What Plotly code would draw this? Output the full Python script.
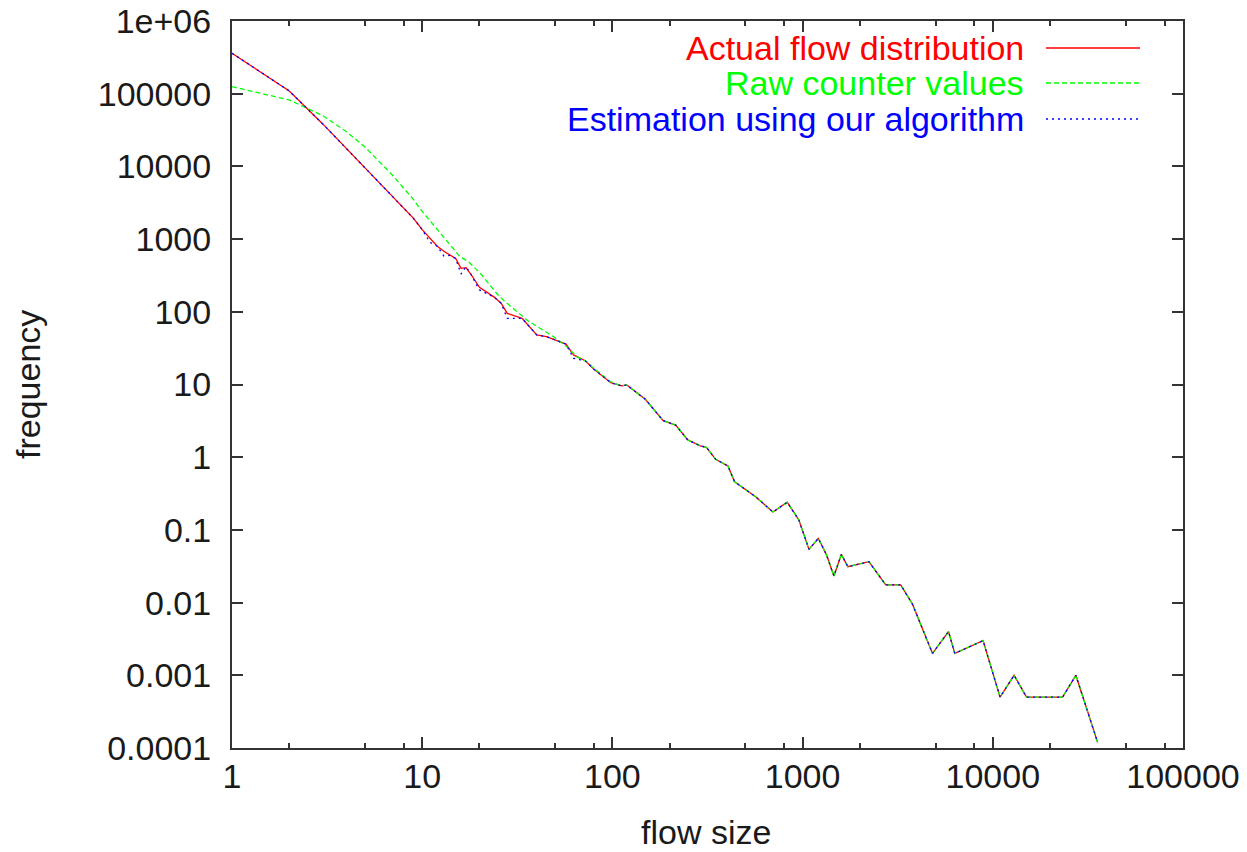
import plotly.graph_objects as go

# ---------------- data ----------------
flow_size_head = [1, 2, 3, 4, 5, 6, 7, 8, 9, 10, 11, 12, 13, 14, 15, 16, 17, 18,
                  20, 24, 26, 28, 33.5, 40, 45, 57, 62.5, 72, 80, 98]
actual_head = [360000, 109000, 38400, 17700, 9600, 5800, 3800, 2650, 1930, 1350,
               1020, 800, 680, 596, 540, 396, 405, 331, 217, 158, 131, 95, 81.4,
               48, 45.5, 36, 25.5, 21.2, 16.2, 10.6]
estimate_head = [360000, 109000, 38400, 17700, 9600, 5800, 3800, 2650, 1930, 1350,
                 900, 800, 586, 596, 540, 331, 417, 331, 200, 158, 131, 81, 81.4,
                 48, 45.5, 36, 22.9, 21.2, 16.2, 10.6]

raw_flow_size_head = [1, 2, 3, 4, 5, 6, 7, 8, 9, 10, 11.5, 13, 14.6, 15.8, 17.5,
                      20.2, 24.6, 26.7, 30, 35.5, 49, 57.6, 65, 73.5, 79.7, 97.6]
raw_head = [125000, 82000, 50000, 30000, 18500, 11500, 7500, 5000, 3500, 2400,
            1560, 1050, 747, 573, 489, 339, 180, 145, 112, 77, 45.5, 33.1, 24.1,
            20.6, 16.7, 10.96]

# tail where all three series coincide
flow_size_tail = [112, 119, 149, 185, 215, 249, 290, 312, 349, 405, 439, 566, 698,
                  830, 956, 1080, 1210, 1337, 1461, 1598, 1730, 2233, 2735, 3280,
                  3776, 4820, 5850, 6310, 8890, 10920, 12940, 15040, 23270, 27330,
                  35560]
freq_tail = [9.55, 9.85, 6.25, 3.18, 2.77, 1.73, 1.43, 1.37, 0.935, 0.757, 0.46,
             0.286, 0.176, 0.24, 0.137, 0.054, 0.0766, 0.045, 0.0232, 0.046, 0.0312,
             0.0365, 0.0175, 0.0175, 0.0096, 0.002, 0.004, 0.002, 0.003, 0.0005,
             0.001, 0.0005, 0.0005, 0.001, 0.00012]

series_names = ["Actual flow distribution", "Raw counter values",
                "Estimation using our algorithm"]
series_colors = ["#ff0000", "#00ff00", "#0000ff"]
series_dash = ["solid", "5px,3px", "2px,4px"]

x_tickvals = [1, 10, 100, 1000, 10000, 100000]
x_ticktext = ["1", "10", "100", "1000", "10000", "100000"]
x_minorvals = [m * d for d in [1, 10, 100, 1000, 10000] for m in (2, 5, 8)]
y_tickvals = [1e-4, 1e-3, 1e-2, 1e-1, 1, 10, 100, 1000, 10000, 100000, 1e6]
y_ticktext = ["0.0001", "0.001", "0.01", "0.1", "1", "10", "100", "1000",
              "10000", "100000", "1e+06"]

# ---------------- figure ----------------
W, H = 1247, 852
L, R, T, B = 232, 1183, 21, 748

def px(xp):
    return (xp - L) / (R - L)

def py(yp):
    return (B - yp) / (B - T)

series = [
    (flow_size_head + flow_size_tail, actual_head + freq_tail),
    (raw_flow_size_head + flow_size_tail, raw_head + freq_tail),
    (flow_size_head + flow_size_tail, estimate_head + freq_tail),
]

fig = go.Figure()
for (xs, ys), name, col, dash in zip(series, series_names, series_colors, series_dash):
    fig.add_trace(go.Scatter(x=xs, y=ys, mode="lines", name=name,
                             line=dict(color=col, width=1.3, dash=dash),
                             showlegend=False))

FONT = "Liberation Sans, Arial, Helvetica, sans-serif"
axis_common = dict(
    type="log", showgrid=False, zeroline=False, showline=True, automargin=False,
    linecolor="#333333", linewidth=2, mirror="allticks",
    ticks="inside", ticklen=11, tickwidth=1.5, tickcolor="#333333",
    tickfont=dict(family=FONT, size=34, color="#1a1a1a"),
)
fig.update_xaxes(**axis_common, range=[0, 5], tickmode="array",
                 tickvals=x_tickvals, ticktext=x_ticktext, ticklabelstandoff=-3,
                 minor=dict(tickmode="array", tickvals=x_minorvals, ticklen=5,
                            tickwidth=1.5, tickcolor="#333333", ticks="inside",
                            showgrid=False))
fig.update_yaxes(**axis_common, range=[-4, 6], tickmode="array",
                 tickvals=y_tickvals, ticktext=y_ticktext, ticklabelstandoff=12)

annotations = [
    dict(text="frequency", x=px(28), y=py(385), xref="paper", yref="paper",
         textangle=-90, showarrow=False, xanchor="center", yanchor="middle",
         font=dict(family=FONT, size=34, color="#1a1a1a")),
    dict(text="flow size", x=px(706), y=py(832), xref="paper", yref="paper",
         showarrow=False, xanchor="center", yanchor="middle",
         font=dict(family=FONT, size=34, color="#1a1a1a")),
]
shapes = []
row_y = [48, 83, 119]
for name, col, dash, yy in zip(series_names, series_colors, series_dash, row_y):
    annotations.append(dict(text=name, x=px(1026), y=py(yy), xref="paper",
                            yref="paper", showarrow=False, xanchor="right",
                            yanchor="middle",
                            font=dict(family=FONT, size=34, color=col)))
    shapes.append(dict(type="line", xref="paper", yref="paper",
                       x0=px(1046), x1=px(1140), y0=py(yy), y1=py(yy),
                       line=dict(color=col, width=1.3, dash=dash)))

fig.update_layout(
    width=W, height=H, autosize=False,
    margin=dict(l=L, r=W - R, t=T, b=H - B, pad=0, autoexpand=False),
    paper_bgcolor="white", plot_bgcolor="white",
    annotations=annotations, shapes=shapes, showlegend=False,
)

fig.write_html("out.html")
